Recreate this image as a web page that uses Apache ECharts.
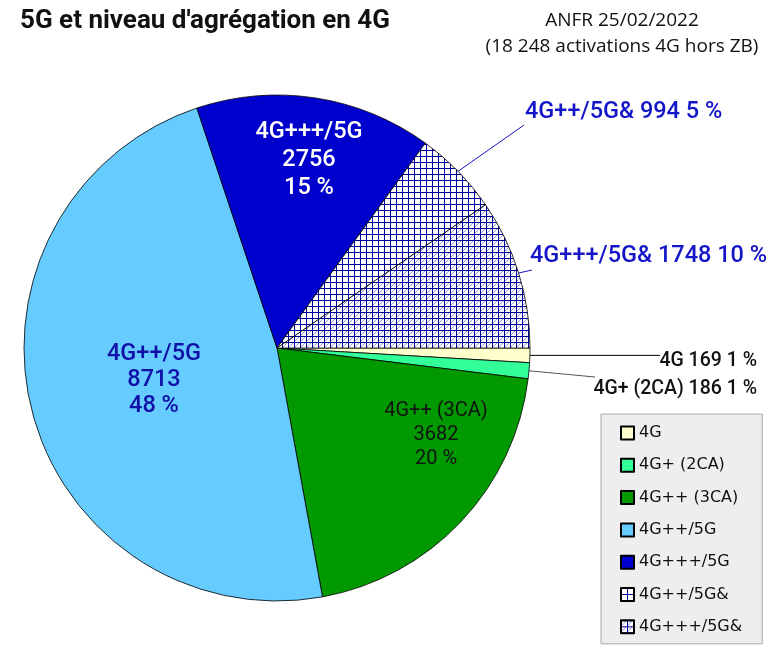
<!DOCTYPE html>
<html>
<head>
<meta charset="utf-8">
<script src="https://cdn.jsdelivr.net/npm/echarts@6/dist/echarts.min.js"></script>
<style>
  html, body { margin: 0; padding: 0; background: #fff; }
  #main { width: 769px; height: 650px; }
</style>
</head>
<body>
<div id="main"></div>
<script>
var categories = ['4G', '4G+ (2CA)', '4G++ (3CA)', '4G++/5G', '4G+++/5G', '4G++/5G&', '4G+++/5G&'];
var values = [169, 186, 3682, 8713, 2756, 994, 1748];

var chartDom = document.getElementById('main');
var myChart = echarts.init(chartDom);

// hatched fills: navy grid, the second one with extra diagonals
function makeHatch(diag) {
    var c = document.createElement('canvas');
    c.width = 6;
    c.height = 6;
    var ctx = c.getContext('2d');
    ctx.fillStyle = '#ffffff';
    ctx.fillRect(0, 0, 6, 6);
    if (diag) {
        ctx.strokeStyle = '#9a9ae0';
        ctx.lineWidth = 1;
        ctx.beginPath();
        ctx.moveTo(0, 6);
        ctx.lineTo(6, 0);
        ctx.stroke();
    }
    ctx.fillStyle = '#00009a';
    ctx.fillRect(0, 0, 6, 1);
    ctx.fillRect(0, 0, 1, 6);
    return { image: c, repeat: 'repeat' };
}

var colors = ['#ffffcc', '#33ff99', '#009900', '#66ccff', '#0000cc', makeHatch(false), makeHatch(true)];

var center = [277, 348];
var radius = 253;

// where each label goes (pixels), and where its leader line ends
var labelPlaces = [
    { x: 757, y: 361, align: 'right', lineEnd: [660, null] },
    { x: 757, y: 389, align: 'right', lineEnd: [595, 377] },
    { x: 436, y: 435, align: 'center' },
    { x: 154, y: 380, align: 'center' },
    { x: 309, y: 160, align: 'center' },
    { x: 525, y: 112, align: 'left', lineEnd: [524, 125] },
    { x: 530, y: 256, align: 'left', lineEnd: [532, 270] }
];

var total = values.reduce(function (a, b) { return a + b; }, 0);
var midAngles = [];
var acc = 0;
values.forEach(function (v) {
    midAngles.push((acc + v / 2) / total * Math.PI * 2);
    acc += v;
});

var insideStyle = function (color, size, lh, weight) {
    return {
        show: true,
        position: 'inside',
        formatter: '{b}\n{c}\n{d} %',
        color: color,
        fontSize: size,
        lineHeight: lh,
        fontWeight: weight,
        fontFamily: 'Roboto'
    };
};
var outsideStyle = function (color, size) {
    return {
        show: true,
        position: 'outside',
        formatter: '{b} {c} {d} %',
        color: color,
        fontSize: size,
        fontWeight: 500,
        fontFamily: 'Roboto'
    };
};

var labels = [
    outsideStyle('#111', 19.5),
    outsideStyle('#111', 19.5),
    insideStyle('#111', 20, 24, 'normal'),
    insideStyle('#1010a8', 23.5, 26, 500),
    insideStyle('#ffffff', 23.5, 28, 500),
    outsideStyle('#1414c8', 23.5),
    outsideStyle('#1414c8', 23.5)
];
var lineColors = ['#000', '#555', null, null, null, '#1414c8', '#1414c8'];

var pieData = categories.map(function (name, i) {
    return {
        name: name,
        value: values[i],
        itemStyle: { color: colors[i] },
        label: labels[i],
        labelLine: lineColors[i]
            ? { show: true, lineStyle: { color: lineColors[i], width: 1 } }
            : { show: false }
    };
});

var option = {
    animation: false,
    title: [{
        text: "5G et niveau d'agrégation en 4G",
        left: 20,
        top: 8,
        padding: 0,
        textStyle: {
            fontFamily: 'Roboto',
            fontWeight: 'bold',
            fontSize: 26,
            color: '#111'
        }
    }, {
        text: 'ANFR 25/02/2022\n(18 248 activations 4G hors ZB)',
        left: 622,
        top: 8,
        padding: 0,
        textAlign: 'center',
        textStyle: {
            fontFamily: 'Open Sans',
            fontWeight: 'normal',
            fontSize: 19,
            lineHeight: 26,
            color: '#111'
        }
    }],
    legend: {
        orient: 'vertical',
        left: 601,
        top: 414,
        data: categories,
        icon: 'rect',
        itemWidth: 13,
        itemHeight: 13,
        itemGap: 14.3,
        padding: [10, 20, 8, 19],
        backgroundColor: '#eeeeee',
        borderColor: '#aaaaaa',
        borderWidth: 1,
        borderRadius: 0,
        textStyle: {
            fontFamily: 'DejaVu Sans',
            fontSize: 16,
            lineHeight: 18,
            color: '#111'
        }
    },
    series: [{
        type: 'pie',
        center: center,
        radius: radius,
        startAngle: 0,
        clockwise: true,
        percentPrecision: 0,
        avoidLabelOverlap: false,
        itemStyle: { borderColor: '#000', borderWidth: 0.8 },
        emphasis: { disabled: true },
        data: pieData,
        labelLayout: function (params) {
            var p = labelPlaces[params.dataIndex];
            var res = { x: p.x, y: p.y, align: p.align, verticalAlign: 'middle' };
            if (p.lineEnd) {
                var a = midAngles[params.dataIndex];
                var ex = center[0] + radius * Math.cos(a);
                var ey = center[1] + radius * Math.sin(a);
                var endY = p.lineEnd[1] === null ? ey : p.lineEnd[1];
                res.labelLinePoints = [[ex, ey], [p.lineEnd[0], endY], [p.lineEnd[0], endY]];
            }
            return res;
        }
    }]
};

option && myChart.setOption(option);
</script>
</body>
</html>
